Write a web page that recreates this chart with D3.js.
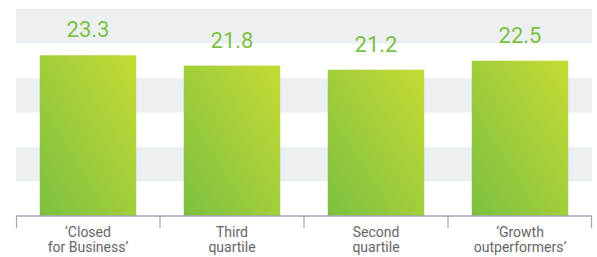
<!DOCTYPE html>
<html>
<head>
<meta charset="utf-8">
<script src="https://cdn.jsdelivr.net/npm/d3@7"></script>
<style>
  html, body { margin: 0; padding: 0; background: #fff; }
  svg { display: block; }
</style>
</head>
<body>
<div id="chart"></div>
<script>
// ── Data ─────────────────────────────────────────────────────────────────
const categories = [
  ["‘Closed", "for Business’"],
  ["Third", "quartile"],
  ["Second", "quartile"],
  ["‘Growth", "outperformers’"],
];
const values = [23.3, 21.8, 21.2, 22.5];
const bandTicks = [0, 5, 10, 15, 20, 25, 30];

// ── Dimensions ───────────────────────────────────────────────────────────
const W = 597, H = 257;
const margin = { top: 9, right: 5, bottom: 41, left: 16 };
const width = W - margin.left - margin.right;
const height = H - margin.top - margin.bottom;

const svg = d3.select("#chart").append("svg")
  .attr("width", W).attr("height", H);

const defs = svg.append("defs");
const grad = defs.append("linearGradient")
  .attr("id", "barGrad")
  .attr("x1", "0%").attr("y1", "100%")
  .attr("x2", "100%").attr("y2", "0%");
grad.append("stop").attr("offset", "0%").attr("stop-color", "#7cc042");
grad.append("stop").attr("offset", "100%").attr("stop-color", "#c6db34");

const g = svg.append("g")
  .attr("transform", `translate(${margin.left},${margin.top})`);

// ── Scales ───────────────────────────────────────────────────────────────
const x = d3.scaleBand()
  .domain(d3.range(values.length))
  .range([0, width])
  .paddingInner(0.33)
  .paddingOuter(0.165);

const xOuter = d3.scaleBand()
  .domain(d3.range(values.length))
  .range([0, width]);

const y = d3.scaleLinear().domain([0, 30]).range([height, 0]);

// ── Background Stripes ───────────────────────────────────────────────────
const stripes = d3.pairs(bandTicks).filter((d, i) => i % 2 === 1);
g.selectAll(".stripe")
  .data(stripes)
  .join("rect")
  .attr("class", "stripe")
  .attr("x", 0)
  .attr("width", width)
  .attr("y", (d) => y(d[1]))
  .attr("height", (d) => y(d[0]) - y(d[1]))
  .attr("fill", "#edf0f2");

// ── Bars ─────────────────────────────────────────────────────────────────
g.selectAll(".bar")
  .data(values)
  .join("rect")
  .attr("class", "bar")
  .attr("x", (d, i) => x(i))
  .attr("width", x.bandwidth())
  .attr("y", (d) => y(d))
  .attr("height", (d) => y(0) - y(d))
  .attr("fill", "url(#barGrad)");

// ── Value Labels ─────────────────────────────────────────────────────────
g.selectAll(".val")
  .data(values)
  .join("text")
  .attr("class", "val")
  .attr("x", (d, i) => x(i) + x.bandwidth() / 2)
  .attr("y", (d) => y(d) - 18)
  .attr("text-anchor", "middle")
  .attr("fill", "#7dc142")
  .style("font-family", "Roboto, sans-serif")
  .style("font-size", "22px")
  .text((d) => d.toFixed(1));

// ── Axis ─────────────────────────────────────────────────────────────────
const axis = g.append("g").attr("transform", `translate(0,${height})`);
axis.append("line")
  .attr("x1", 0).attr("x2", width)
  .attr("stroke", "#a3a7b0").attr("stroke-width", 1.5);
axis.selectAll(".tick")
  .data(d3.range(values.length + 1))
  .join("line")
  .attr("class", "tick")
  .attr("x1", (d) => Math.min(d * xOuter.step(), width - 0.5) + (d === 0 ? 0.5 : 0))
  .attr("x2", (d) => Math.min(d * xOuter.step(), width - 0.5) + (d === 0 ? 0.5 : 0))
  .attr("y1", 0).attr("y2", 12)
  .attr("stroke", "#a3a7b0").attr("stroke-width", 1.2);

// ── Category Labels (one text per line) ──────────────────────────────────
const lines = categories.flatMap((c, i) => c.map((t, j) => ({ t, i, j })));
axis.selectAll(".cat")
  .data(lines)
  .join("text")
  .attr("class", "cat")
  .attr("text-anchor", "middle")
  .attr("fill", "#666666")
  .style("font-family", "Roboto, sans-serif")
  .style("font-size", "14px")
  .attr("x", (d) => xOuter(d.i) + xOuter.bandwidth() / 2)
  .attr("y", (d) => 21 + d.j * 15)
  .text((d) => d.t);
</script>
</body>
</html>
